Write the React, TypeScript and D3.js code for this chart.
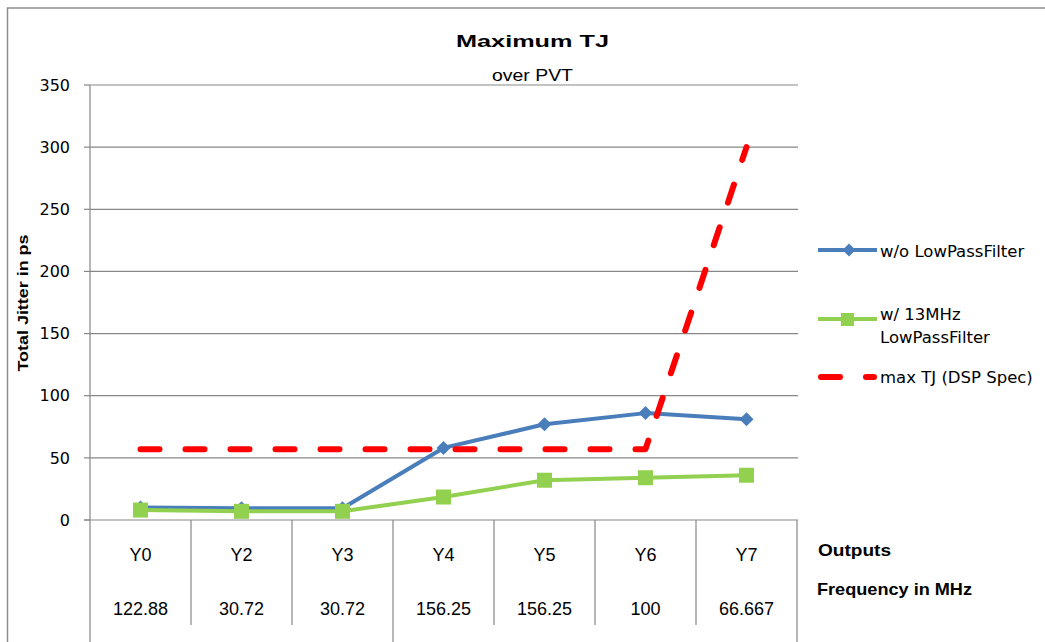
import React from "react";
import * as d3 from "d3";

const categories = ["Y0", "Y2", "Y3", "Y4", "Y5", "Y6", "Y7"];
const frequencies = ["122.88", "30.72", "30.72", "156.25", "156.25", "100", "66.667"];
const groups = [["Y0", "Y2", "Y3"], ["Y4", "Y5", "Y6", "Y7"]];
const withoutFilter = [10, 9.5, 9.5, 58, 77, 86, 81];
const with13MHz = [8, 7, 7, 18.5, 32, 34, 36];
const maxTJ = [57, 57, 57, 57, 57, 57, 300];
const yTicks = [0, 50, 100, 150, 200, 250, 300, 350];

const BLUE = "#4A7EBB";
const GREEN = "#92D050";
const RED = "#FF0000";
const GRID = "#878787";
const SANS = "'Liberation Sans', Arial, sans-serif";
const DEJA = "'DejaVu Sans', Verdana, sans-serif";

export default function App() {
  const left = 90, right = 797, top = 85, bottom = 520;
  const x = d3.scaleBand<string>().domain(categories).range([left, right]);
  const y = d3.scaleLinear().domain([0, 350]).range([bottom, top]);
  const cx = (c: string) => (x(c) as number) + x.bandwidth() / 2;
  const line = d3
    .line<number>()
    .x((_, i) => cx(categories[i]))
    .y((d) => y(d));

  const diamond = (px: number, py: number, r: number) =>
    `M${px},${py - r}L${px + r},${py}L${px},${py + r}L${px - r},${py}Z`;

  // group boundaries (full-height separators)
  const fullLines: number[] = [left];
  groups.forEach((g) => {
    const last = g[g.length - 1];
    fullLines.push((x(last) as number) + x.bandwidth());
  });

  return (
    <svg
      width={1045}
      height={642}
      style={{ position: "absolute", left: 0, top: 0, background: "#fff" }}
    >
      <rect x={7.5} y={8} width={1100} height={700} fill="#fff" stroke="#8c8c8c" strokeWidth={1.5} />

      {/* Title */}
      <text x={456} y={47} fontFamily={SANS} fontWeight="bold" fontSize={17} textLength={153} lengthAdjust="spacingAndGlyphs" fill="#000">
        Maximum TJ
      </text>
      <text x={492} y={81} fontFamily={SANS} fontSize={16.5} textLength={81} lengthAdjust="spacingAndGlyphs" fill="#000">
        over PVT
      </text>

      {/* Gridlines */}
      {yTicks.map((t) => (
        <g key={t}>
          {t > 0 && <line x1={left} x2={right + 1} y1={y(t)} y2={y(t)} stroke={GRID} strokeWidth={1.2} />}
          <line x1={left - 6} x2={left} y1={y(t)} y2={y(t)} stroke={GRID} strokeWidth={1.2} />
          <text x={70} y={y(t)} dy="0.36em" textAnchor="end" fontFamily={DEJA} fontSize={16} fill="#000">
            {t}
          </text>
        </g>
      ))}

      {/* Y axis title */}
      <text
        transform={`translate(28,${303}) rotate(-90)`}
        textAnchor="middle"
        fontFamily={SANS}
        fontWeight="bold"
        fontSize={15.5}
        textLength={137}
        lengthAdjust="spacingAndGlyphs"
        fill="#000"
      >
        Total Jitter in ps
      </text>

      {/* Axis lines & category table */}
      <line x1={left - 6} x2={right + 1} y1={bottom} y2={bottom} stroke={GRID} strokeWidth={1.2} />
      <line x1={left} x2={left} y1={top} y2={642} stroke={GRID} strokeWidth={1.2} />
      {categories.map((c, i) => {
        const xr = (x(c) as number) + x.bandwidth();
        const full = fullLines.some((f) => Math.abs(f - xr) < 0.5);
        return (
          <g key={c}>
            <line x1={xr} x2={xr} y1={bottom} y2={full ? 642 : 625} stroke={GRID} strokeWidth={1.2} />
            <text x={cx(c)} y={561} textAnchor="middle" fontFamily={SANS} fontSize={18} fill="#000">
              {c}
            </text>
            <text x={cx(c)} y={615} textAnchor="middle" fontFamily={SANS} fontSize={18} fill="#000">
              {frequencies[i]}
            </text>
          </g>
        );
      })}
      <text x={818} y={556} fontFamily={SANS} fontWeight="bold" fontSize={17} textLength={73} lengthAdjust="spacingAndGlyphs" fill="#000">
        Outputs
      </text>
      <text x={817} y={595} fontFamily={SANS} fontWeight="bold" fontSize={17} textLength={155} lengthAdjust="spacingAndGlyphs" fill="#000">
        Frequency in MHz
      </text>

      {/* Series */}
      <path d={line(withoutFilter) as string} fill="none" stroke={BLUE} strokeWidth={4} strokeLinejoin="round" />
      {withoutFilter.map((v, i) => (
        <path key={i} d={diamond(cx(categories[i]), y(v), 7)} fill={BLUE} />
      ))}
      <path d={line(with13MHz) as string} fill="none" stroke={GREEN} strokeWidth={4} strokeLinejoin="round" />
      {with13MHz.map((v, i) => (
        <rect key={i} x={cx(categories[i]) - 7.5} y={y(v) - 7.5} width={15} height={15} fill={GREEN} />
      ))}
      <path
        d={line(maxTJ) as string}
        fill="none"
        stroke={RED}
        strokeWidth={6}
        strokeDasharray="19,26"
        strokeLinecap="round"
        strokeLinejoin="round"
      />

      {/* Legend */}
      <line x1={818} x2={877} y1={250} y2={250} stroke={BLUE} strokeWidth={4} />
      <path d={diamond(849, 250, 6.5)} fill={BLUE} />
      <text x={880} y={257} fontFamily={DEJA} fontSize={16.5} fill="#000">w/o LowPassFilter</text>

      <line x1={818} x2={877} y1={319} y2={319} stroke={GREEN} strokeWidth={4} />
      <rect x={841} y={313} width={13} height={13} fill={GREEN} />
      <text x={880} y={320} fontFamily={DEJA} fontSize={16.5} fill="#000">w/ 13MHz</text>
      <text x={880} y={343} fontFamily={DEJA} fontSize={16.5} fill="#000">LowPassFilter</text>

      <line x1={821} x2={874} y1={377} y2={377} stroke={RED} strokeWidth={6} strokeDasharray="19,26" strokeLinecap="round" />
      <text x={880} y={383} fontFamily={DEJA} fontSize={16.5} fill="#000">max TJ (DSP Spec)</text>
    </svg>
  );
}
